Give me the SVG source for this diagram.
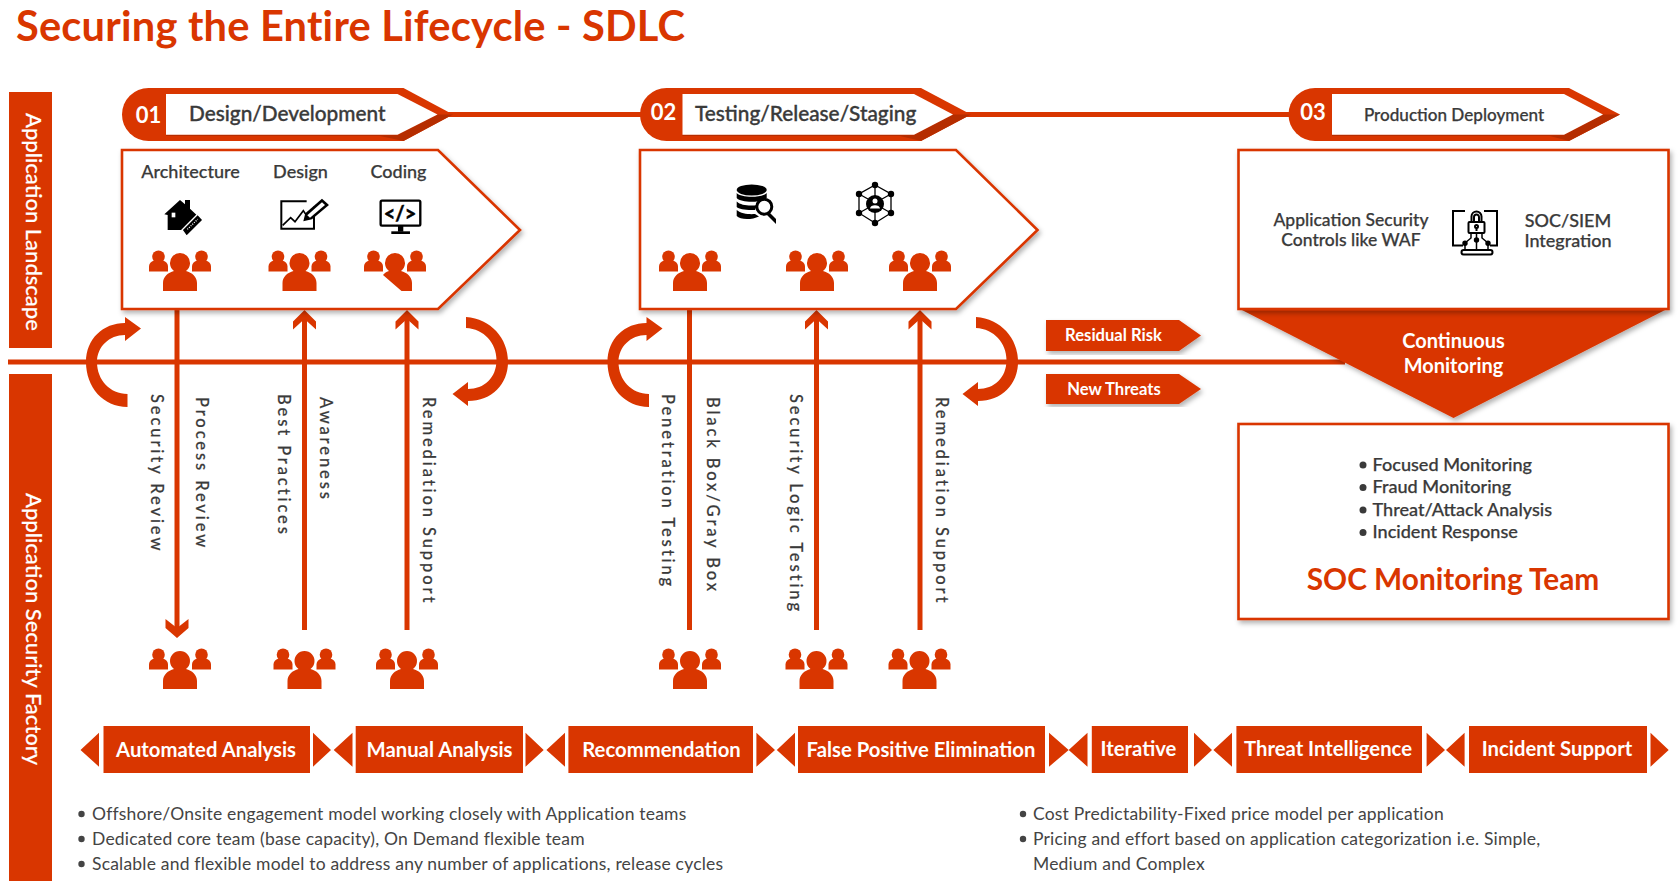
<svg xmlns="http://www.w3.org/2000/svg" width="1680" height="881" viewBox="0 0 1680 881">
<style>
text{font-family:"Lato","Noto Sans","Liberation Sans",sans-serif}
.o{fill:#d93600}
.w{fill:#fff}
.box{fill:#fff;stroke:#d93600;stroke-width:2.6;filter:url(#sh)}
.ln{stroke:#d93600;stroke-width:5;fill:none}
.num{font-size:22px;font-weight:700;fill:#fff;text-anchor:middle}
.hd{font-size:20.8px;font-weight:500;fill:#3a3a3a;stroke:#3a3a3a;stroke-width:.35px}
.lb{font-size:18px;font-weight:500;fill:#3a3a3a;stroke:#3a3a3a;stroke-width:.25px;text-anchor:middle}
.side{font-size:22px;fill:#fff;font-weight:500;stroke:#fff;stroke-width:.2px}
.v{font-size:16.5px;font-weight:500;fill:#3a3a3a;stroke:#3a3a3a;stroke-width:.2px;letter-spacing:2.9px}
.ch{font-size:20.3px;font-weight:700;fill:#fff;text-anchor:middle}
.tag{font-size:16.6px;font-weight:700;fill:#fff;text-anchor:middle}
.bl{font-size:17.5px;fill:#444;letter-spacing:.2px}
.sl{font-size:18.1px;font-weight:500;fill:#3a3a3a;stroke:#3a3a3a;stroke-width:.25px}
.pr{font-size:17.5px;font-weight:500;fill:#3a3a3a;stroke:#3a3a3a;stroke-width:.25px;text-anchor:middle}
.k{fill:#000}
.ks{fill:none;stroke:#000;stroke-width:2}
</style>
<defs>
<filter id="sh" x="-5%" y="-5%" width="115%" height="115%"><feDropShadow dx="2" dy="3" stdDeviation="2.5" flood-color="#000" flood-opacity=".3"/></filter>
<g id="side-l"><circle class="o" cx="-21.500" cy="6.800" r="6.300"/><path class="o" d="M-31,21.500V16.500C-31,13.500-29,11.500-26,10.500H-17C-14,11.500-12,13.500-12,16.500V21.500Z"/></g>
<g id="side-r"><circle class="o" cx="21.500" cy="6.800" r="6.300"/><path class="o" d="M12,21.500V16.500C12,13.500 14,11.500 17,10.500H26C29,11.500 31,13.500 31,16.500V21.500Z"/></g>
<path id="body" d="M-17,41V33C-17,27-12,22.500-6,21A10,10 0 1 1 6,21C12,22.500 17,27 17,33V41Z"/>
<path id="bodyCut" d="M6.500,41L-12,25C-11,23.500-9,22-6,21A10,10 0 1 1 6,21C12,22.500 17,27 17,33V41Z"/>
<g id="people"><use href="#side-l"/><use href="#side-r"/><use href="#body" fill="#fff" stroke="#fff" stroke-width="2.400"/><use href="#body" class="o"/></g>
<g id="peopleCut"><use href="#side-l"/><use href="#side-r"/><use href="#bodyCut" fill="#fff" stroke="#fff" stroke-width="2.400"/><use href="#bodyCut" class="o"/></g>
<path id="up" class="o" d="M0,0L11.500,11.500V19.500L0,9L-11.500,19.500V11.500Z"/>
<path id="ccw" class="o" d="M127.500,407C103,407 86,387 86,362C86,339 103,323 125,323V317L141,328.500L125,341V335C109,335 97,347 97,362C97,380 110,394 127.500,394Z"/>
<path id="cw" class="o" d="M466,317C491,319 508,338 508,362C508,384 492,401 468,401V406L452.500,394L468,382V389C484,389 496.500,378 496.500,360C496.500,343 484,329 466,328Z"/>
</defs>
<rect width="1680" height="881" fill="#fff"/>
<text x="16" y="41" font-size="41.600" font-weight="700" fill="#d93600" style="letter-spacing:.2px">Securing the Entire Lifecycle - SDLC</text>

<g id="side-landscape"><rect class="o" x="9" y="92" width="43" height="256"/><text class="side" transform="translate(25.500,113) rotate(90)">Application Landscape</text></g>
<g id="side-factory"><rect class="o" x="9" y="374" width="43" height="507"/><text class="side" transform="translate(25.500,493) rotate(90)">Application Security Factory</text></g>

<g id="connectors">
<path class="ln" d="M440,114.500H650M955,114.500H1300"/>
<path class="ln" d="M8,362H1345"/>
<path class="ln" d="M177,309V628M304.500,630V318M407,630V318M689.500,309V630M816.500,630V318M920,630V318"/>
<path class="o" d="M177,638L165.500,628V619L177,628L188.500,619V628Z"/>
<use href="#up" x="304.500" y="310"/><use href="#up" x="407" y="310"/><use href="#up" x="816.500" y="310"/><use href="#up" x="920" y="310"/>
<use href="#ccw"/><use href="#cw"/>
<use href="#ccw" x="521.500"/><use href="#cw" x="510"/>
</g>

<g id="phase-01">
<path class="o" d="M148.500,88H403.500L453,114.500L403.500,141H148.500A26.500,26.500 0 0 1 148.500,88Z"/>
<path fill="#b52d00" d="M403.500,141L453,114.500L437.500,114.500L397.500,134.700H166V136H380Z"/>
<path class="w" d="M166,94H397.500L437.500,114.500L397.500,134.700H166Z"/>
<text class="num" x="148.500" y="123">01</text>
<text class="hd" x="189" y="121">Design/Development</text>
</g>
<g id="phase-02">
<path class="o" d="M666.500,88H921L971,114.500L921,141H666.500A26.500,26.500 0 0 1 666.500,88Z"/>
<path fill="#b52d00" d="M921,141L971,114.500L953,114.500L914,134.700H682.500V136H900Z"/>
<path class="w" d="M682.500,94H914L953,114.500L914,134.700H682.500Z"/>
<text class="num" x="663.500" y="120">02</text>
<text class="hd" x="695" y="121">Testing/Release/Staging</text>
</g>
<g id="phase-03">
<path class="o" d="M1315,88H1569L1620,114.500L1569,141H1315A26.500,26.500 0 0 1 1315,88Z"/>
<path fill="#b52d00" d="M1569,141L1620,114.500L1603,114.500L1564,134.700H1332V136H1550Z"/>
<path class="w" d="M1332,94H1564L1603,114.500L1564,134.700H1332Z"/>
<text class="num" x="1313" y="120">03</text>
<text class="pr" x="1454" y="121" style="font-size:17.100px">Production Deployment</text>
</g>

<g id="box-design">
<path class="box" d="M122,150H438L520,230L438,309H122Z"/>
<text class="lb" x="190.500" y="177.500">Architecture</text>
<text class="lb" x="300.500" y="177.500">Design</text>
<text class="lb" x="398.500" y="177.500">Coding</text>
<g id="icon-arch" transform="translate(130,150) scale(.3333)">
<path class="k" d="M103,193L150,150L165,163V150H180V176L200,195L160,240H113V195Z"/>
<rect x="125" y="188" width="11" height="14" fill="#fff"/>
<path class="k" stroke="#fff" stroke-width="4" d="M156,240L203,193L219,210L170,259Z"/>
<path d="M172,238L203,208" stroke="#fff" stroke-width="4" stroke-dasharray="3 4" fill="none"/>
</g>
<g id="icon-chart" transform="translate(130,150) scale(.3333)">
<path d="M552,170V236H454V154H530" fill="none" stroke="#000" stroke-width="6"/>
<path d="M458,226L482,203L495,215L520,182L530,197" fill="none" stroke="#000" stroke-width="5"/>
<path d="M520,214L526,190L576,146L597,165L546,208Z" fill="#000"/>
<path d="M532,196L576,157L585,165L540,203Z" fill="#fff"/>
</g>
<g id="icon-code" transform="translate(130,150) scale(.3333)">
<rect x="752" y="152" width="119" height="75" rx="4" fill="none" stroke="#000" stroke-width="7"/>
<rect x="804" y="228" width="16" height="17" class="k"/><rect x="784" y="244" width="56" height="8" class="k"/>
</g>
<text x="400" y="220.500" font-size="20" font-weight="700" fill="#000" stroke="#000" stroke-width=".5" text-anchor="middle">&lt;/&gt;</text>
<use href="#people" x="180" y="250"/><use href="#people" x="299.500" y="250"/><use href="#peopleCut" x="395" y="250"/>
</g>

<g id="box-testing">
<path class="box" d="M640,150H956L1037.500,230L956,309H640Z"/>
<g id="icon-db">
<ellipse class="k" cx="751.700" cy="190" rx="15" ry="5.500"/>
<path class="k" d="M736.700,193C741,198 762,198 766.700,193V198C762,203 741,203 736.700,198Z"/>
<path class="k" d="M736.700,201.500C741,206 752,206 757,205L755,210C746,210.500 739,209 736.700,207Z"/>
<path class="k" d="M736.700,210C741,214 750,214.500 755,214L759,216.500C752,220 740,220 736.700,216Z"/>
<circle cx="764.300" cy="206.700" r="7.500" fill="#fff" stroke="#000" stroke-width="3"/>
<path class="k" d="M769,212L776,219L776,224L766,214Z"/>
</g>
<g id="icon-network" fill="#000">
<path d="M875,185L891,194V213L875,223L859,213V194Z" fill="none" stroke="#000" stroke-width="1.300"/>
<path d="M875,185V196M875,212V223M859,194L868,199M891,194L882,199M859,213L868,208M891,213L882,208" stroke="#000" stroke-width="1.300"/>
<circle cx="875" cy="204" r="9"/>
<circle cx="875" cy="185" r="3.200"/><circle cx="875" cy="223" r="3.200"/><circle cx="859" cy="194" r="3.200"/><circle cx="891" cy="194" r="3.200"/><circle cx="859" cy="213" r="3.200"/><circle cx="891" cy="213" r="3.200"/>
<circle cx="875" cy="201" r="2.500" fill="#fff"/><path d="M870,208.500C870,204 880,204 880,208.500Z" fill="#fff"/>
</g>
<use href="#people" x="690" y="250"/><use href="#people" x="817" y="250"/><use href="#people" x="920" y="250"/>
</g>

<g id="monitoring">
<path class="o" d="M1238,308H1669L1453.500,418Z" filter="url(#sh)"/>
<text x="1453.500" y="348" font-size="20" font-weight="700" fill="#fff" text-anchor="middle">Continuous</text>
<text x="1453.500" y="373" font-size="20" font-weight="700" fill="#fff" text-anchor="middle">Monitoring</text>
</g>
<g id="box-production">
<rect class="box" x="1238.500" y="150" width="430" height="159"/>
<text class="pr" x="1351" y="225.700">Application Security</text>
<text class="pr" x="1351" y="245.700">Controls like WAF</text>
<text class="pr" x="1568" y="226.700" style="font-size:18px">SOC/SIEM</text>
<text class="pr" x="1568" y="247" style="font-size:18px">Integration</text>
<g id="icon-lock" class="ks">
<path d="M1465,211H1453V245.500H1463M1484,211H1497V245.500H1490"/>
<rect x="1468.500" y="222" width="16" height="11" rx="1"/>
<path d="M1471.500,222V216.500A5,5 0 0 1 1481.500,216.500V222M1474,222V217A2.500,2.500 0 0 1 1479,217V222"/>
<circle cx="1476.500" cy="226.500" r="1.500"/><path d="M1476.500,228V231"/>
<path d="M1476.500,233V250M1471,233V238L1465,243M1482,233V238L1488,243M1465,243V250M1488,243V250" style="stroke-width:1.500px"/>
<circle cx="1465" cy="243.300" r="1.700" class="k"/><circle cx="1476.500" cy="240" r="1.700" class="k"/><circle cx="1488" cy="243.300" r="1.700" class="k"/>
<rect x="1461.500" y="250" width="31" height="4.500" rx="2.200"/>
</g>
</g>

<g id="tag-risk"><path class="o" d="M1046,320H1179L1201,335.500L1179,351H1046Z" filter="url(#sh)"/><text class="tag" x="1113.500" y="341">Residual Risk</text></g>
<g id="tag-threats"><path class="o" d="M1046,374H1179L1201,389L1179,404H1046Z" filter="url(#sh)"/><text class="tag" x="1114" y="395">New Threats</text></g>

<g id="box-soc">
<rect class="box" x="1238.500" y="424" width="430" height="195"/>
<circle cx="1363" cy="465" r="3.500" fill="#3a3a3a"/><text class="sl" x="1372.500" y="470.500">Focused Monitoring</text>
<circle cx="1363" cy="487.500" r="3.500" fill="#3a3a3a"/><text class="sl" x="1372.500" y="493">Fraud Monitoring</text>
<circle cx="1363" cy="510" r="3.500" fill="#3a3a3a"/><text class="sl" x="1372.500" y="515.500">Threat/Attack Analysis</text>
<circle cx="1363" cy="532.500" r="3.500" fill="#3a3a3a"/><text class="sl" x="1372.500" y="538">Incident Response</text>
<text x="1453" y="590" font-size="29.800" font-weight="700" fill="#d93600" text-anchor="middle">SOC Monitoring Team</text>
</g>

<g id="vertical-labels">
<text class="v" transform="translate(151,394) rotate(90)">Security Review</text>
<text class="v" transform="translate(196,397) rotate(90)">Process Review</text>
<text class="v" transform="translate(277.500,394) rotate(90)">Best Practices</text>
<text class="v" transform="translate(320,397) rotate(90)">Awareness</text>
<text class="v" transform="translate(422.700,397) rotate(90)">Remediation Support</text>
<text class="v" transform="translate(661.500,394) rotate(90)">Penetration Testing</text>
<text class="v" transform="translate(707,397) rotate(90)">Black Box/Gray Box</text>
<text class="v" transform="translate(790,394) rotate(90)">Security Logic Testing</text>
<text class="v" transform="translate(935.500,397) rotate(90)">Remediation Support</text>
</g>

<g id="teams">
<use href="#people" x="180" y="648"/><use href="#people" x="304.500" y="648"/><use href="#people" x="407" y="648"/>
<use href="#people" x="690" y="648"/><use href="#people" x="816.500" y="648"/><use href="#people" x="919.500" y="648"/>
</g>

<g id="step-automated"><path class="o" d="M80.500,750L99,732.700V766.700ZM313,732.700L331,750L313,766.700Z"/><rect class="o" x="103.500" y="726" width="206.500" height="47"/><text class="ch" x="206" y="757">Automated Analysis</text></g>
<g id="step-manual"><path class="o" d="M333.700,750L352.500,732.700V766.700ZM525.500,732.700L543.700,750L525.500,766.700Z"/><rect class="o" x="355.700" y="726" width="167.300" height="47"/><text class="ch" x="439.500" y="757">Manual Analysis</text></g>
<g id="step-recommendation"><path class="o" d="M546.400,750L565,732.700V766.700ZM756.400,732.700L775,750L756.400,766.700Z"/><rect class="o" x="568.400" y="726" width="184.600" height="47"/><text class="ch" x="661.500" y="757">Recommendation</text></g>
<g id="step-false"><path class="o" d="M776.800,750L795,732.700V766.700ZM1049,732.700L1068.700,750L1049,766.700Z"/><rect class="o" x="798" y="726" width="247" height="47"/><text class="ch" x="921" y="757">False Positive Elimination</text></g>
<g id="step-iterative"><path class="o" d="M1068.700,750L1087.500,732.700V766.700ZM1194,732.700L1212,750L1194,766.700Z"/><rect class="o" x="1091.800" y="726" width="96.200" height="47"/><text class="ch" x="1138.500" y="755.500">Iterative</text></g>
<g id="step-threat"><path class="o" d="M1213.400,750L1232,732.700V766.700ZM1426.600,732.700L1445,750L1426.600,766.700Z"/><rect class="o" x="1236.400" y="726" width="185.600" height="47"/><text class="ch" x="1328" y="755.500">Threat Intelligence</text></g>
<g id="step-incident"><path class="o" d="M1446,750L1464.600,732.700V766.700ZM1650.500,732.700L1668.700,750L1650.500,766.700Z"/><rect class="o" x="1469" y="726" width="178" height="47"/><text class="ch" x="1557" y="755.500">Incident Support</text></g>

<g id="notes-left">
<circle cx="81.500" cy="814" r="3.200" fill="#444"/><text class="bl" x="92" y="820">Offshore/Onsite engagement model working closely with Application teams</text>
<circle cx="81.500" cy="839" r="3.200" fill="#444"/><text class="bl" x="92" y="845">Dedicated core team (base capacity), On Demand flexible team</text>
<circle cx="81.500" cy="864" r="3.200" fill="#444"/><text class="bl" x="92" y="870">Scalable and flexible model to address any number of applications, release cycles</text>
</g>
<g id="notes-right">
<circle cx="1023" cy="814" r="3.200" fill="#444"/><text class="bl" x="1033" y="820">Cost Predictability-Fixed price model per application</text>
<circle cx="1023" cy="839" r="3.200" fill="#444"/><text class="bl" x="1033" y="845">Pricing and effort based on application categorization i.e. Simple,</text>
<text class="bl" x="1033" y="870">Medium and Complex</text>
</g>
</svg>
